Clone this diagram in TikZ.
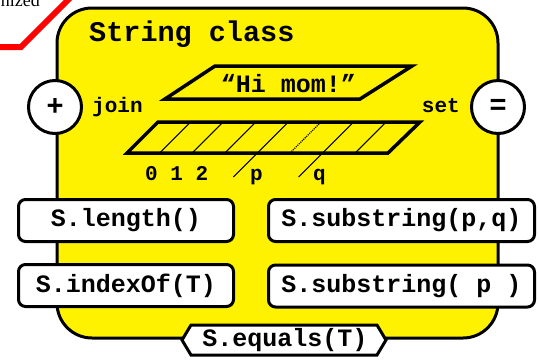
\documentclass[tikz,border=0pt]{standalone}
\usepackage{fontspec}
\setmainfont{Liberation Serif}
\newfontfamily\cour{Liberation Mono}
\newfontfamily\arialf{Liberation Sans}
\begin{document}
\begin{tikzpicture}[x=1pt,y=-1pt,
  thick border/.style={draw=black, line width=3pt},
  methodbox/.style={thick border, fill=white, rounded corners=7pt, inner sep=0pt,
    font=\cour\bfseries\fontsize{25}{25}\selectfont},
  leftbox/.style={methodbox, minimum width=215pt, minimum height=42pt},
  rightbox/.style={methodbox, minimum width=266pt, minimum height=42pt},
  opcircle/.style={circle, thick border, fill=white, minimum size=53pt, inner sep=0pt,
    font=\arialf\bfseries\fontsize{29}{29}\selectfont},
  smalllabel/.style={inner sep=0pt, font=\cour\bfseries\fontsize{21}{21}\selectfont},
  cellline/.style={line width=1.1pt}
]
\useasboundingbox (0,0) rectangle (539,360);
\clip (0,0) rectangle (539,360);

% red line and clipped caption
\draw[red, line width=6pt] (-10,47) -- (21,47) -- (75,-7);
\node[anchor=base east, inner sep=0pt, font=\fontsize{18}{18}\selectfont] (nz) at (40,6) {nized};

% yellow class body
\draw[thick border, fill=yellow, rounded corners=35pt] (57,8) rectangle (498,338);

% title
\node[anchor=base west, inner sep=0pt, font=\cour\bfseries\fontsize{28.5}{28.5}\selectfont] (title) at (89,41) {String class};

% Hi mom parallelogram
\draw[line width=3.5pt, line join=miter] (165,99) -- (360,99) -- (412,66) -- (215,66) -- cycle;
\node[anchor=base, inner sep=0pt, font=\cour\bfseries\fontsize{25}{25}\selectfont] (himom) at (288.5,92) {“Hi mom!”};

% array parallelogram
\foreach \k in {1,2,3,4,6,7} {
  \draw[cellline] ({127+32.6*\k},153) -- ({157+32.6*\k},123);
}
\draw[cellline, densely dotted] ({127+32.6*5},153) -- ({157+32.6*5},123);
\draw[cellline] ({127+32.6*4},153) -- ({127+32.6*4-24},177);
\draw[cellline] ({127+32.6*6},153) -- ({127+32.6*6-24},177);
\draw[line width=3.5pt, line join=miter] (127,153) -- (388,153) -- (420,122) -- (158,122) -- cycle;

\node[smalllabel, anchor=base west] (idx) at (145,180) {0 1 2};
\node[smalllabel, anchor=base west] (lp) at (250,180) {p};
\node[smalllabel, anchor=base west] (lq) at (313,180) {q};

% join / set
\node[opcircle] (plus) at (55,107) {+};
\node[opcircle] (eqc) at (498,107) {=};
\node[smalllabel, anchor=base west] (join) at (92,112) {join};
\node[smalllabel, anchor=base east] (set) at (460,112) {set};

% method boxes
\node[leftbox] (len) at (126,220.5) {S.length()};
\node[rightbox] (sub2) at (401.5,220.5) {S.substring(p,q)};
\node[leftbox] (idxof) at (126,285.5) {S.indexOf(T)};
\node[rightbox] (sub1) at (401.5,286) {S.substring( p )};

% equals hexagon
\draw[thick border, fill=white, line join=miter] (182,340) -- (191,325) -- (377,325) -- (386,340) -- (377,355) -- (191,355) -- cycle;
\node[inner sep=0pt, font=\cour\bfseries\fontsize{25}{25}\selectfont] (equals) at (285,340) {S.equals(T)};
\end{tikzpicture}
\end{document}
